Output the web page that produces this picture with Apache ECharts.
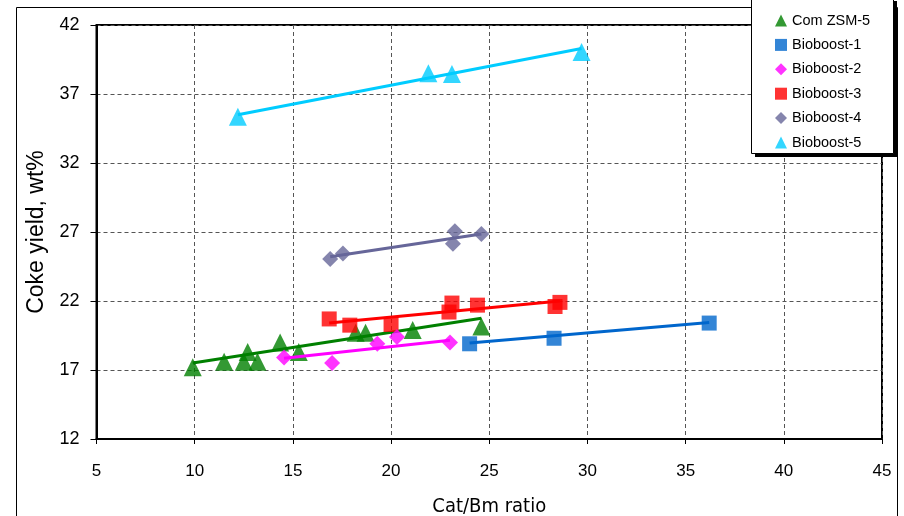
<!DOCTYPE html>
<html><head><meta charset="utf-8">
<script src="https://cdn.jsdelivr.net/npm/echarts@6/dist/echarts.min.js"></script>
<style>html,body{margin:0;padding:0;background:#fff}#c{width:904px;height:516px}</style>
</head><body><div id="c"></div>
<script>
const seriesNames = ['Com ZSM-5','Bioboost-1','Bioboost-2','Bioboost-3','Bioboost-4','Bioboost-5'];
const xTicks = [5,10,15,20,25,30,35,40,45];
const yTicks = [12,17,22,27,32,37,42];

const zsmX = [9.9, 11.5, 12.5, 12.7, 13.2, 14.35, 15.3, 18.2, 18.7, 21.1, 24.6];
const zsmY = [17.2, 17.6, 17.6, 18.3, 17.6, 19.0, 18.3, 19.7, 19.7, 19.9, 20.15];
const bb1X = [24.0, 28.3, 36.2];
const bb1Y = [18.9, 19.3, 20.4];
const bb2X = [14.55, 17.0, 19.3, 20.3, 23.0];
const bb2Y = [17.9, 17.5, 18.9, 19.4, 19.0];
const bb3X = [16.85, 17.9, 20.0, 22.95, 23.1, 24.4, 28.35, 28.6];
const bb3Y = [20.7, 20.25, 20.3, 21.2, 21.85, 21.7, 21.6, 21.9];
const bb4X = [16.9, 17.55, 23.15, 23.25, 24.6];
const bb4Y = [25.05, 25.45, 26.15, 27.05, 26.85];
const bb5X = [12.2, 21.9, 23.1, 29.7];
const bb5Y = [35.35, 38.5, 38.45, 40.05];

// trendline endpoints: [x1, y1, x2, y2]
const zsmTrend = [9.9, 17.5, 24.6, 20.75];
const bb1Trend = [24.0, 18.95, 36.2, 20.45];
const bb2Trend = [14.55, 17.85, 23.0, 19.15];
const bb3Trend = [16.85, 20.4, 28.6, 22.0];
const bb4Trend = [16.9, 25.2, 24.6, 26.85];
const bb5Trend = [12.2, 35.5, 29.7, 40.3];

const colors = ['#008000','#0066cc','#ff00ff','#ff0000','#666699','#00ccff'];
const symbols = ['triangle','rect','diamond','rect','diamond','triangle'];
const sizes = [18,15,16,15,16,18];
const xs = [zsmX,bb1X,bb2X,bb3X,bb4X,bb5X];
const ys = [zsmY,bb1Y,bb2Y,bb3Y,bb4Y,bb5Y];
const trends = [zsmTrend,bb1Trend,bb2Trend,bb3Trend,bb4Trend,bb5Trend];
const zOrder = [4,3,5,4,3,3];

const FONT = '"Liberation Sans", Arial, sans-serif';
const NARROW = '"Liberation Sans Narrow", "Arial Narrow", "DejaVu Sans Condensed", sans-serif';
const series = [];
for (let i = 0; i < 6; i++) {
  series.push({
    name: seriesNames[i], type: 'scatter', symbol: symbols[i], symbolSize: sizes[i],
    itemStyle: {color: colors[i]}, z: zOrder[i],
    data: xs[i].map((x, k) => [x, ys[i][k]])
  });
  const t = trends[i];
  series.push({
    name: seriesNames[i] + ' trend', type: 'line', symbol: 'none', silent: true,
    lineStyle: {color: colors[i], width: 3}, z: zOrder[i],
    data: [[t[0], t[1]], [t[2], t[3]]]
  });
}

const chart = echarts.init(document.getElementById('c'), null, {renderer: 'canvas'});
chart.setOption({
  animation: false,
  backgroundColor: '#fff',
  grid: {left: 96.5, right: 22, top: 25, bottom: 77, containLabel: false, outerBoundsMode: 'none',
         show: true, borderColor: '#000', borderWidth: 2, backgroundColor: 'transparent'},
  xAxis: {
    type: 'value', min: xTicks[0], max: xTicks[xTicks.length-1], interval: 5,
    name: 'Cat/Bm ratio', nameLocation: 'middle', nameGap: 58,
    nameTextStyle: {fontFamily: NARROW, fontSize: 20, color: '#000'},
    axisLine: {show: true, lineStyle: {color: '#000', width: 2}},
    axisTick: {show: true, length: 5, lineStyle: {color: '#000', width: 1}},
    axisLabel: {fontFamily: FONT, fontSize: 17, color: '#000', margin: 24},
    splitLine: {show: true, lineStyle: {color: '#555', type: [4,3], width: 1}}
  },
  yAxis: {
    type: 'value', min: yTicks[0], max: yTicks[yTicks.length-1], interval: 5,
    name: 'Coke yield, wt%', nameLocation: 'middle', nameGap: 48,
    nameTextStyle: {fontFamily: FONT, fontSize: 23, color: '#000'},
    axisLine: {show: true, lineStyle: {color: '#000', width: 2}},
    axisTick: {show: true, length: 6, lineStyle: {color: '#000', width: 1}},
    axisLabel: {fontFamily: FONT, fontSize: 18, color: '#000', margin: 17},
    splitLine: {show: true, lineStyle: {color: '#555', type: [4,3], width: 1}}
  },
  legend: {
    data: seriesNames, orient: 'vertical', left: 775, top: 13,
    itemWidth: 12, itemHeight: 12, itemGap: 9.4, padding: 0,
    textStyle: {fontFamily: FONT, fontSize: 14.5, color: '#000'}, z: 20
  },
  graphic: [
    {type: 'rect', shape: {x: 16.5, y: 7.5, width: 881, height: 530}, style: {fill: 'none', stroke: '#000', lineWidth: 1}, z: 1, silent: true},
    {type: 'rect', shape: {x: 755, y: 1, width: 142, height: 156}, style: {fill: '#000'}, z: 15, silent: true},
    {type: 'rect', shape: {x: 751.5, y: -3.5, width: 142, height: 157}, style: {fill: '#fff', stroke: '#000', lineWidth: 1}, z: 16, silent: true}
  ],
  series: series
});
</script></body></html>
